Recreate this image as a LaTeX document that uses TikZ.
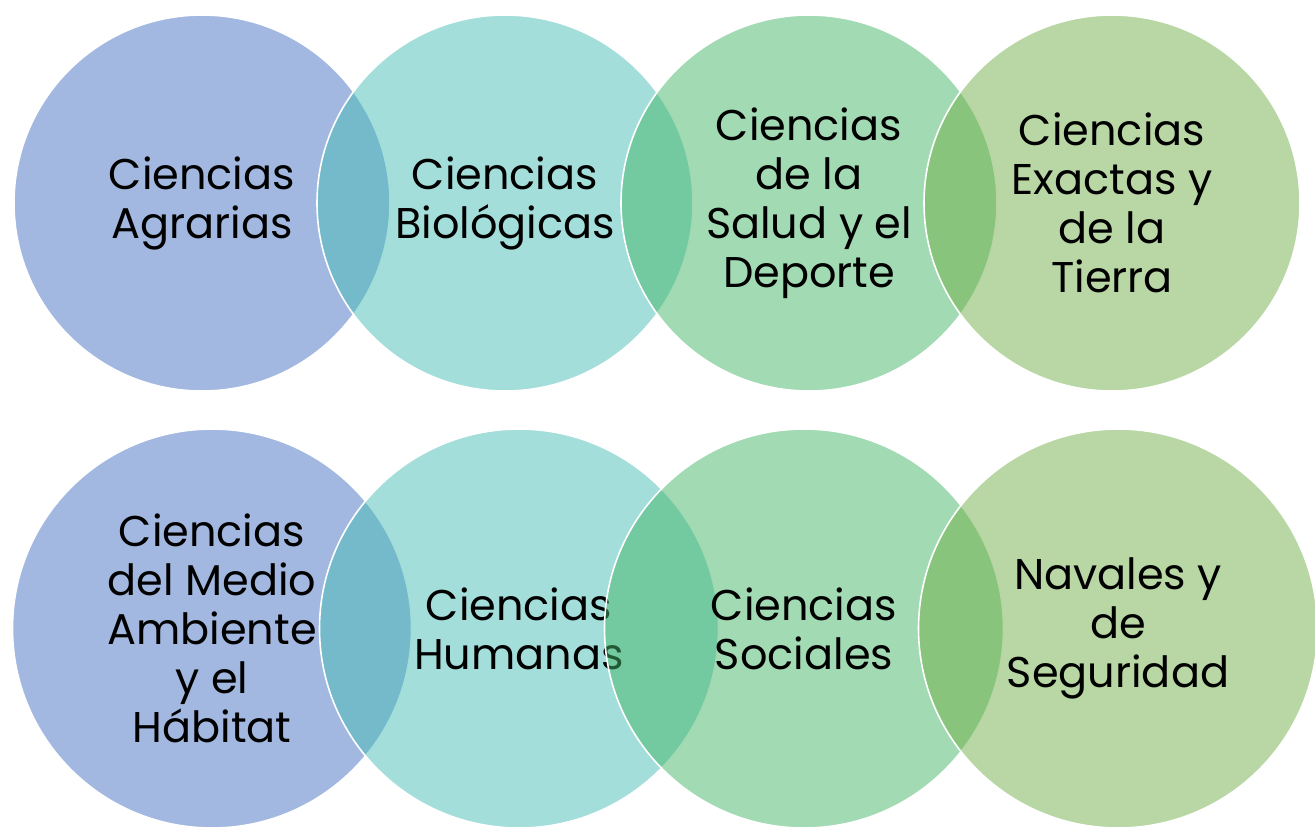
\documentclass[tikz,border=0pt]{standalone}
\usepackage{fontspec}
\setmainfont{Poppins}

\definecolor{agrar}{RGB}{69,113,193}
\definecolor{biolo}{RGB}{71,189,183}
\definecolor{salud}{RGB}{69,181,103}
\definecolor{exact}{RGB}{113,175,73}

\begin{document}
\begin{tikzpicture}[
        x=0.5pt,
        y=-0.5pt,
        bubble/.style={
            circle,
            draw=white,
            line width=0.8pt,
            fill opacity=0.5,
            text opacity=1,
            text=black,
            align=center,
            inner sep=0pt,
            minimum size=#1,
            font=\fontsize{21.5}{24.5}\selectfont
        },
        bubble/.default=188pt
    ]
        \useasboundingbox (0,0) rectangle (1315,827);

        % Top row
        \node [bubble, fill=agrar] (agrarias) at (202,203) {Ciencias\\Agrarias};
        \node [bubble, fill=biolo] (biologicas) at (505,203) {Ciencias\\Biológicas};
        \node [bubble, fill=salud] (salud) at (809,203) {Ciencias\\de la\\Salud y el\\Deporte};
        \node [bubble, fill=exact] (exactas) at (1112,203) {Ciencias\\Exactas y\\de la\\Tierra};

        % Bottom row
        \node [bubble=199.5pt, fill=agrar] (ambiente) at (212,628.5) {Ciencias\\del Medio\\Ambiente\\y el\\Hábitat};
        \node [bubble=199.5pt, fill=biolo] (humanas) at (519,628.5) {Ciencias\\Humanas};
        \node [bubble=199.5pt, fill=salud] (sociales) at (804,628.5) {Ciencias\\Sociales};
        \node [bubble=199.5pt, fill=exact] (navales) at (1118,628.5) {Navales y\\de\\Seguridad};

    \end{tikzpicture}
\end{document}
